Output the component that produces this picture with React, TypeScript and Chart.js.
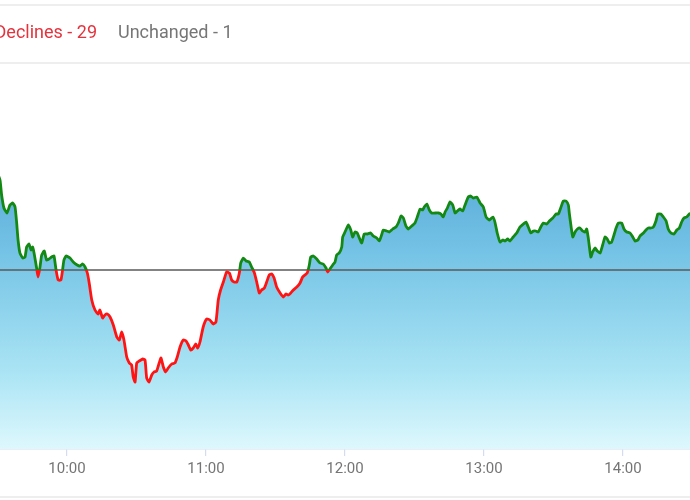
import React, { useEffect, useRef } from "react";
import { Chart, registerables } from "chart.js";

Chart.register(...registerables);

// Minutes after midnight
const times: number[] = [
  569.8, 571.1, 571.8, 572.8, 574.1, 575.4, 576.6, 577.6, 578.3, 578.9, 579.7, 580.9, 581.9, 582.6, 583.6, 584.5,
  585.2, 585.8, 586.9, 587.5, 588.3, 589.1, 590.2, 591.2, 592.2, 593.4, 594.4, 595.3, 596.2, 597.4, 598.1, 598.7,
  599.6, 601.3, 602.7, 604.4, 605.6, 606.8, 607.8, 608.8, 609.6, 610.7, 612.1, 613.5, 614.2, 615.4, 616.4, 617.4,
  618.6, 620.0, 621.5, 622.6, 623.6, 624.6, 625.8, 626.9, 627.9, 628.6, 629.4, 630.1, 631.2, 632.7, 633.7, 634.4,
  635.4, 636.6, 637.6, 638.7, 639.8, 640.6, 641.6, 642.6, 643.7, 645.2, 646.6, 647.6, 648.8, 650.2, 651.4, 652.4,
  653.4, 654.5, 655.6, 656.4, 657.4, 658.8, 660.3, 661.7, 663.2, 664.3, 665.3, 666.3, 667.5, 668.9, 670.1, 671.1,
  672.1, 673.3, 674.4, 675.0, 676.1, 677.3, 678.7, 679.7, 680.9, 681.9, 683.0, 684.0, 685.2, 686.2, 687.3, 688.4,
  689.4, 690.5, 692.0, 693.4, 694.5, 695.5, 696.6, 697.7, 699.2, 700.6, 701.7, 702.7, 703.7, 704.6, 705.2, 706.3,
  707.8, 709.2, 710.6, 711.8, 712.5, 713.5, 714.7, 715.7, 716.4, 717.5, 718.6, 719.0, 720.0, 721.4, 722.5, 723.3,
  724.3, 725.3, 726.2, 727.2, 728.3, 729.6, 731.1, 732.2, 733.7, 734.8, 735.8, 736.5, 738.0, 739.1, 740.6, 742.0,
  743.0, 744.2, 745.2, 746.3, 747.3, 748.8, 750.2, 751.2, 752.4, 753.5, 754.2, 755.3, 756.4, 757.4, 758.8, 760.3,
  761.4, 762.4, 763.2, 764.2, 765.3, 766.5, 767.5, 768.5, 769.6, 770.8, 771.8, 773.2, 774.2, 775.4, 776.9, 778.3,
  779.7, 780.9, 782.3, 783.8, 784.7, 785.7, 786.9, 788.1, 789.1, 790.2, 791.2, 792.6, 794.1, 795.5, 797.0, 798.1,
  799.1, 800.2, 801.3, 802.4, 803.4, 804.5, 805.6, 807.1, 808.2, 809.7, 811.1, 812.1, 813.1, 814.2, 815.4, 816.4,
  816.8, 817.6, 818.3, 819.3, 820.3, 821.4, 822.6, 823.6, 824.3, 825.0, 826.1, 826.9, 827.9, 828.9, 830.1, 831.2,
  832.2, 833.2, 834.1, 835.1, 836.1, 837.0, 838.0, 839.4, 840.4, 841.6, 843.0, 844.2, 845.2, 846.4, 847.3, 848.8,
  849.9, 850.9, 852.0, 853.1, 854.2, 855.0, 856.3, 857.4, 858.6, 859.5, 860.7, 862.0, 863.2, 864.3, 865.3, 866.3,
  867.5, 868.6, 871.1,
];

const values: number[] = [
  24049, 24045, 24037.5, 24031, 24028.5, 24032.5, 24033.5, 24031.5, 24023.5, 24015, 24008.5, 24006, 24006.5, 24011.5, 24013, 24010,
  24011.5, 24008.5, 24001, 23996.5, 24001, 24007.5, 24009.5, 24005, 24005.5, 24006.5, 24007, 24000, 23995, 23995, 24000, 24005,
  24007, 24006, 24004, 24002.5, 24002, 24003, 24001.5, 23998.5, 23993.5, 23985, 23980, 23978, 23980, 23976, 23977.5, 23978,
  23976.5, 23972.5, 23966.5, 23965, 23969, 23965, 23956.5, 23953.5, 23952.5, 23946.5, 23944, 23953.5, 23954.5, 23955.5, 23955, 23946,
  23944, 23947.5, 23949, 23949.5, 23953.5, 23956, 23951.5, 23949, 23951, 23953, 23953.5, 23956.5, 23961.5, 23965, 23964.5, 23962.5,
  23960, 23961, 23963, 23961, 23964, 23971.5, 23975.5, 23975, 23973, 23974, 23985, 23990, 23994, 23999, 23998.5, 23995,
  23994, 23994, 23998.5, 24003.5, 24006, 24004.5, 24004, 24001.5, 23998.5, 23994, 23988.5, 23990, 23991, 23994, 23997.5, 23998,
  23996, 23991.5, 23988.5, 23986.5, 23988, 23987.5, 23988.5, 23990, 23991.5, 23993.5, 23996.5, 23997.5, 23998.5, 24002.5, 24006.5, 24007,
  24005.5, 24003.5, 24003, 24001, 23999, 24000.5, 24002.5, 24004, 24007.5, 24008.5, 24011.5, 24016.5, 24019, 24022.5, 24020, 24016.5,
  24019, 24018.5, 24016, 24013.5, 24018, 24018, 24018.5, 24017, 24016, 24014.5, 24017.5, 24020, 24019.5, 24019, 24020.5, 24021.5,
  24023.5, 24027, 24026, 24022, 24020.5, 24022, 24023.5, 24026.5, 24030.5, 24030, 24031.5, 24033, 24030, 24028.5, 24028.5, 24028.5,
  24028, 24026.5, 24029, 24031, 24034, 24032.5, 24028.5, 24029.5, 24030.5, 24029.5, 24032.5, 24036.5, 24037, 24036, 24036.5, 24033.5,
  24031.5, 24026.5, 24025, 24026.5, 24024, 24018.5, 24014, 24015, 24014.5, 24015.5, 24014.5, 24016.5, 24018.5, 24021.5, 24023, 24024,
  24021.5, 24018.5, 24019.5, 24019.5, 24019, 24021.5, 24023.5, 24023, 24024.5, 24026, 24028, 24028, 24031, 24034.5, 24034.5, 24032.5,
  24028.5, 24021.5, 24016.5, 24019, 24020.5, 24021, 24019.5, 24019, 24020.5, 24016, 24006.5, 24009, 24011, 24009.5, 24008.5, 24012.5,
  24016.5, 24015.5, 24013.5, 24014, 24017.5, 24021, 24023.5, 24023.5, 24020.5, 24019, 24018.5, 24016.5, 24014.5, 24015, 24017, 24018.5,
  24020, 24021, 24021, 24021.5, 24024.5, 24028, 24028, 24026.5, 24024.5, 24020.5, 24018.5, 24018, 24020, 24021, 24024, 24026,
  24026.5, 24028, 24029,
];

const prevClose = 24000;
const tickTimes: number[] = [600, 660, 720, 780, 840];
const xRange: number[] = [571.1, 868.9];
const yRange: number[] = [23910.5, 24103.5];

const legendLabels: string[] = ["Advances", "Declines", "Unchanged"];
const legendCounts: number[] = [20, 29, 1];
const legendColors: string[] = ["#118a11", "#e5333d", "#767676"];

const UP = "#138913";
const DOWN = "#ff1414";

function fmtTime(v: number): string {
  const h = Math.floor(v / 60);
  const m = Math.round(v % 60);
  return `${h}:${String(m).padStart(2, "0")}`;
}

export default function App() {
  const ref = useRef<HTMLCanvasElement | null>(null);

  useEffect(() => {
    document.body.style.margin = "0";
    const canvas = ref.current;
    if (!canvas) return;

    const decorations = {
      id: "decorations",
      beforeDatasetsDraw(chart: any) {
        const { ctx, chartArea, scales } = chart;
        const yb = scales.y.getPixelForValue(prevClose);
        ctx.save();
        ctx.strokeStyle = "#5a5a5a";
        ctx.lineWidth = 1.5;
        ctx.beginPath();
        ctx.moveTo(chartArea.left, yb);
        ctx.lineTo(chartArea.right, yb);
        ctx.stroke();
        ctx.restore();
      },
      afterDraw(chart: any) {
        const { ctx, width } = chart;
        ctx.save();
        // card borders
        ctx.strokeStyle = "#e8e8e8";
        ctx.lineWidth = 1.5;
        [5, 63, 497].forEach((y) => {
          ctx.beginPath();
          ctx.moveTo(0, y);
          ctx.lineTo(width, y);
          ctx.stroke();
        });
        // legend texts
        ctx.font = "18px Roboto";
        ctx.textBaseline = "alphabetic";
        const texts = legendLabels.map((l, i) => `${l} - ${legendCounts[i]}`);
        const w = texts.map((t) => ctx.measureText(t).width);
        const gap = 21;
        const x2 = 118;
        const x1 = x2 - gap - w[1];
        const x0 = x1 - gap - w[0];
        const xs = [x0, x1, x2];
        texts.forEach((t, i) => {
          ctx.fillStyle = legendColors[i];
          ctx.fillText(t, xs[i], 38);
        });
        ctx.restore();
      },
    };

    const chart = new Chart(canvas, {
      type: "line",
      data: {
        datasets: [
          {
            data: times.map((t, i) => ({ x: t, y: values[i] })),
            borderWidth: 2.8,
            borderJoinStyle: "round",
            borderCapStyle: "round",
            pointRadius: 0,
            tension: 0.15,
            fill: "start",
            borderColor: (c: any) => {
              const ch = c.chart;
              const area = ch.chartArea;
              if (!area) return UP;
              const yb = ch.scales.y.getPixelForValue(prevClose);
              const s = Math.min(1, Math.max(0, (yb - area.top) / (area.bottom - area.top)));
              const g = ch.ctx.createLinearGradient(0, area.top, 0, area.bottom);
              g.addColorStop(0, UP);
              g.addColorStop(s, UP);
              g.addColorStop(s, DOWN);
              g.addColorStop(1, DOWN);
              return g;
            },
            backgroundColor: (c: any) => {
              const ch = c.chart;
              const area = ch.chartArea;
              if (!area) return "rgba(100,180,220,1)";
              const g = ch.ctx.createLinearGradient(0, area.top, 0, area.bottom);
              g.addColorStop(0, "rgb(50,138,200)");
              g.addColorStop(0.5, "rgb(118,196,230)");
              g.addColorStop(0.8, "rgb(170,228,244)");
              g.addColorStop(1, "rgb(222,248,253)");
              return g;
            },
          },
        ],
      },
      options: {
        animation: false,
        responsive: false,
        devicePixelRatio: 1,
        layout: { padding: { top: 63, left: 0, right: 0, bottom: 0 } },
        scales: {
          x: {
            type: "linear",
            min: xRange[0],
            max: xRange[1],
            afterBuildTicks: (scale: any) => {
              scale.ticks = tickTimes.map((v) => ({ value: v }));
            },
            afterFit: (scale: any) => {
              scale.height = 51;
            },
            ticks: {
              callback: (v: any) => fmtTime(Number(v)),
              color: "#757575",
              font: { family: "Roboto", size: 15 },
              padding: 4,
              maxRotation: 0,
              autoSkip: false,
            },
            grid: {
              drawOnChartArea: false,
              drawTicks: true,
              tickLength: 7,
              color: "#d6dcef",
              lineWidth: 1.2,
            },
            border: { color: "#d6dcef", width: 1.5 },
          },
          y: {
            display: false,
            min: yRange[0],
            max: yRange[1],
          },
        },
        plugins: {
          legend: { display: false },
          tooltip: { enabled: false },
          filler: { drawTime: "beforeDatasetsDraw" },
        },
      },
      plugins: [decorations],
    } as any);

    return () => chart.destroy();
  }, []);

  return (
    <div style={{ position: "absolute", left: 0, top: 0, width: 690, height: 500, background: "#fff" }}>
      <canvas ref={ref} width={690} height={500} style={{ display: "block", width: 690, height: 500 }} />
    </div>
  );
}
